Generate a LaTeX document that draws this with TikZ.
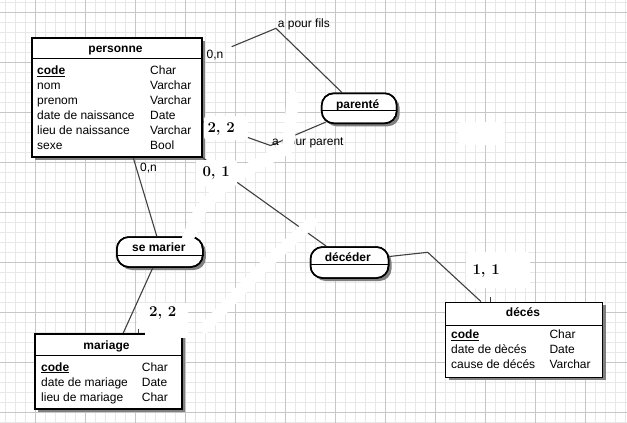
\documentclass[tikz,border=0pt]{standalone}
\usepackage{fontspec}
\newfontfamily\ersans{Liberation Sans}
\usetikzlibrary{shadows}
\begin{document}
\begin{tikzpicture}[x=1pt,y=-1pt,
  minorgrid/.style={draw=black!9,line width=0.8pt},
  majorgrid/.style={draw=black!22,line width=0.8pt},
  boxshadow/.style={drop shadow={shadow xshift=3pt,shadow yshift=-3pt,fill=black!50,opacity=1}},
  entity/.style={draw=black,fill=white,line width=1.5pt,inner sep=0pt,boxshadow},
  relation/.style={draw=black,fill=white,line width=1.5pt,inner sep=0pt,rounded corners=12pt,boxshadow},
  frame/.style={draw=black,line width=1.5pt,inner sep=0pt},
  link/.style={draw=black!75,line width=1.1pt},
  divider/.style={draw=black,line width=1.2pt},
  txt/.style={anchor=base west,inner sep=0pt,font=\ersans\fontsize{12}{14}\selectfont},
  ttl/.style={anchor=base,inner sep=0pt,font=\ersans\bfseries\fontsize{12}{14}\selectfont},
  card/.style={anchor=base west,inner sep=0pt,font=\bfseries\fontsize{15}{18}\selectfont},
  erase/.style={draw=white,line width=12pt,line cap=round,line join=round},
  patch/.style={fill=white,rounded corners=3pt},
]
\useasboundingbox (0,0) rectangle (627,423);
\fill[white] (0,0) rectangle (627,423);

% squared paper
\foreach \x in {5,15,...,625} \draw[minorgrid] (\x,0) -- (\x,423);
\foreach \y in {2,12,...,422} \draw[minorgrid] (0,\y) -- (627,\y);
\foreach \x in {35,85,...,585} \draw[majorgrid] (\x,0) -- (\x,423);
\foreach \y in {12,62,...,412} \draw[majorgrid] (0,\y) -- (627,\y);

% boxes (entities and relations)
\node[entity,minimum width=170,minimum height=119] (personne) at (117,97.5) {};
\node[entity,minimum width=147,minimum height=75] (mariage) at (108.3,371.7) {};
\node[entity,minimum width=157,minimum height=75] (deces) at (524.2,339.8) {};
\node[relation,minimum width=75,minimum height=30] (parente) at (359.2,108.3) {};
\node[relation,minimum width=86,minimum height=30] (semarier) at (159.8,252) {};
\node[relation,minimum width=78,minimum height=31] (deceder) at (349.5,262.5) {};

% connectors
\coordinate (filsstart) at (231.7,46.7);
\coordinate (filsbend) at (276,28.3);
\coordinate (parentbend) at (270.5,145.5);
\coordinate (decesbend) at (427.7,252.3);
\draw[link] (filsstart) -- (filsbend) -- ([xshift=21pt]parente.north west);
\draw[link] ([yshift=-24pt]personne.east) -- (parentbend) -- ([xshift=5pt,yshift=2pt]parente.south west);
\draw[link] ([xshift=102pt]personne.south west) -- ([xshift=-3pt]semarier.north);
\draw[link] (personne.south east) -- ([xshift=16.6pt]deceder.north west);
\draw[link] ([xshift=-7pt]semarier.south) -- ([xshift=89pt]mariage.north west);
\draw[link] ([yshift=6pt]deceder.east) -- (decesbend) -- ([xshift=36pt]deces.north west);

% box frames drawn again over the connector ends
\node[frame,minimum width=170,minimum height=119] at (personne.center) {};
\node[frame,minimum width=147,minimum height=75] at (mariage.center) {};
\node[frame,minimum width=157,minimum height=75] at (deces.center) {};
\node[frame,rounded corners=12pt,minimum width=75,minimum height=30] at (parente.center) {};
\node[frame,rounded corners=12pt,minimum width=86,minimum height=30] at (semarier.center) {};
\node[frame,rounded corners=12pt,minimum width=78,minimum height=31] at (deceder.center) {};

% header dividers
\draw[divider] ([yshift=-21pt]personne.north west) -- ([yshift=-21pt]personne.north east);
\draw[divider] ([yshift=-22pt]mariage.north west) -- ([yshift=-22pt]mariage.north east);
\draw[divider] ([yshift=-24pt]deces.north west) -- ([yshift=-24pt]deces.north east);
\draw[divider] ([yshift=-18pt]parente.north west) -- ([yshift=-18pt]parente.north east);
\draw[divider] ([yshift=-19pt]semarier.north west) -- ([yshift=-19pt]semarier.north east);
\draw[divider] ([yshift=-18pt]deceder.north west) -- ([yshift=-18pt]deceder.north east);

% personne
\node[ttl] (tpersonne) at (115.5,52.5) {personne};
\node[txt] (p1) at (37,74.5) {\underline{\textbf{code}}};
\node[txt] (p1t) at (150,74.5) {Char};
\node[txt] (p2) at (37,89.5) {nom};
\node[txt] (p2t) at (150,89.5) {Varchar};
\node[txt] (p3) at (37,104.5) {prenom};
\node[txt] (p3t) at (150,104.5) {Varchar};
\node[txt] (p4) at (37,119.5) {date de naissance};
\node[txt] (p4t) at (150,119.5) {Date};
\node[txt] (p5) at (37,134.5) {lieu de naissance};
\node[txt] (p5t) at (150,134.5) {Varchar};
\node[txt] (p6) at (37,149.5) {sexe};
\node[txt] (p6t) at (150,149.5) {Bool};

% mariage
\node[ttl] (tmariage) at (106.5,349.3) {mariage};
\node[txt] (m1) at (41,371) {\underline{\textbf{code}}};
\node[txt] (m1t) at (141.7,371) {Char};
\node[txt] (m2) at (41,386) {date de mariage};
\node[txt] (m2t) at (141.7,386) {Date};
\node[txt] (m3) at (41,401) {lieu de mariage};
\node[txt] (m3t) at (141.7,401) {Char};

% deces
\node[ttl] (tdeces) at (523,316.7) {décés};
\node[txt] (d1) at (451,338.5) {\underline{\textbf{code}}};
\node[txt] (d1t) at (549.3,338.5) {Char};
\node[txt] (d2) at (451,353.5) {date de dècés};
\node[txt] (d2t) at (549.3,353.5) {Date};
\node[txt] (d3) at (451,368.5) {cause de décés};
\node[txt] (d3t) at (549.3,368.5) {Varchar};

% relation names
\node[ttl] (tparente) at (357.7,108.3) {parenté};
\node[ttl] (tsemarier) at (158.8,251.7) {se marier};
\node[ttl] (tdeceder) at (347.8,261.7) {décéder};

% role and cardinality texts
\node[txt] (fils) at (277.7,27.3) {a pour fils};
\node[txt] (parent) at (272,145) {a pour parent};
\node[txt] (c1) at (206.5,58.3) {0,n};
\node[txt] (c2) at (140,171.7) {0,n};

% white erasure strokes
\draw[erase] (293,97) -- (288,148) -- (232,178) -- (200,210) -- (188,238);
\draw[erase,line width=11pt] (312,222) -- (262,268) -- (205,328);
\fill[patch] (458,122) rectangle (505,145);
\fill[patch] (204,116) rectangle (248,140);
\fill[patch] (196,160) rectangle (237,186);
\fill[patch] (466,252) rectangle (530,288);
\fill[patch] (137,303) rectangle (188,328);
\fill[white] (145,326) rectangle (188,338);
\draw[link,line width=0.8pt] (490,297) -- (490,302);
\draw[link,line width=0.8pt] (138.3,328.5) -- (138.3,333);

% cardinalities
\node[card] (k1) at (207.3,132.7) {2, 2};
\node[card] (k2) at (202.3,176.7) {0, 1};
\node[card] (k3) at (149,316.7) {2, 2};
\node[card] (k4) at (472.3,274.3) {1, 1};
\end{tikzpicture}
\end{document}
